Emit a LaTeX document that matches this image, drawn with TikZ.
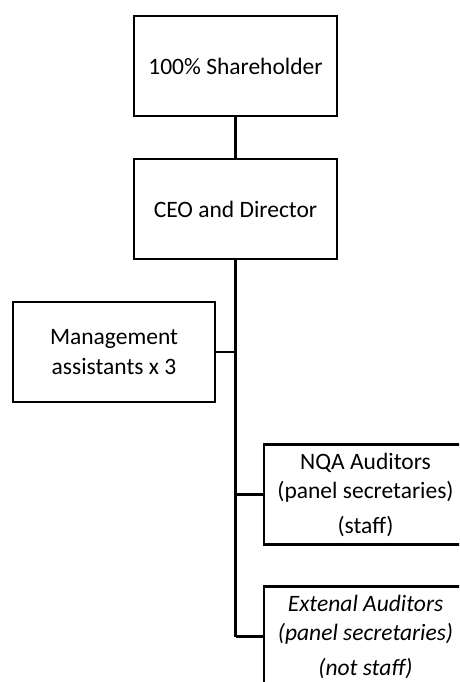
\documentclass[tikz,border=0pt]{standalone}
\usepackage{fontspec}
\setmainfont{Carlito}
\begin{document}
\begin{tikzpicture}[x=1pt,y=-1pt,
  box/.style={draw,line width=2.2pt,rectangle,inner sep=0pt,minimum width=203pt,minimum height=100pt,align=center,font=\fontsize{23.5}{29.5}\selectfont},
  link/.style={line width=2.6pt}]
\useasboundingbox (0,0) rectangle (459,682);
\clip (0,0) rectangle (459,682);
\node[box] (sh) at (235.5,66) {100\% Shareholder};
\node[box] (ceo) at (235.5,209) {CEO and Director};
\node[box,minimum width=202pt] (mg) at (114,352) {Management\\assistants x 3};
\node[box] (nqa) at (365.5,494.5) {NQA Auditors\\(panel secretaries)\\[5pt](staff)};
\node[box,font=\fontsize{23.5}{29.5}\selectfont\itshape] (ext) at (365.5,636.5) {Extenal Auditors\\(panel secretaries)\\[5pt](not staff)};
\coordinate (tend) at (ceo.south |- ext.west);
\draw[link] (sh.south) -- (ceo.north);
\draw[link] (ceo.south) -- (tend);
\draw[link] (mg.east) -- (mg.east -| ceo.south);
\draw[link] (nqa.west) -- (nqa.west -| ceo.south);
\draw[link] (ext.west) -- (tend);
\end{tikzpicture}
\end{document}
